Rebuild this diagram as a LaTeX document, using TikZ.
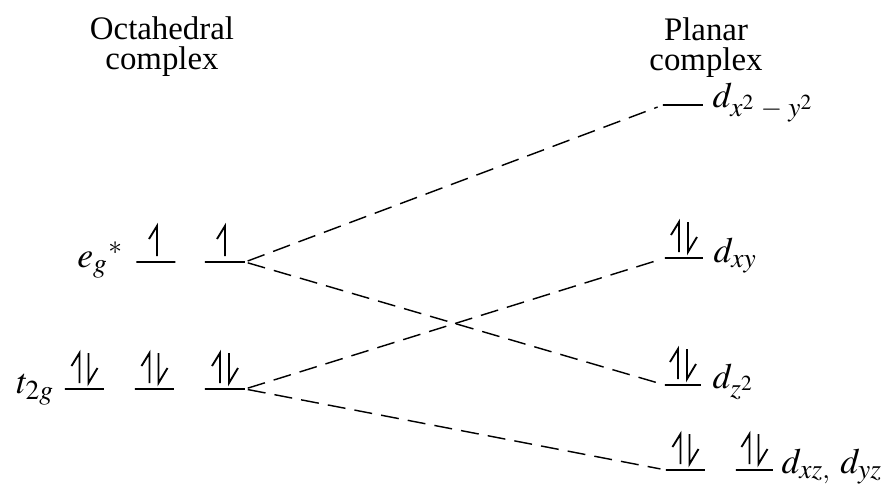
\documentclass[tikz,border=0pt]{standalone}
\usepackage{mathptmx}
\usepackage{fontspec}
\setmainfont{Liberation Serif}
\DeclareMathSizes{12.5}{12.5}{9.6}{7.5}
\begin{document}
\begin{tikzpicture}[x=0.35pt,y=-0.35pt,
  level/.style={draw, line width=0.8pt, rectangle, minimum height=0pt, inner sep=0pt, outer sep=0pt, minimum width=#1*0.35pt},
  level/.default=39,
  conn/.style={dash pattern=on 6.3pt off 3.2pt, line width=0.5pt, shorten >=2pt, shorten <=1pt},
  lbl/.style={inner sep=0pt, font=\fontsize{12.5}{14}\selectfont},
  hdr/.style={align=center, font=\fontsize{11.5}{10.5}\selectfont, inner sep=0pt, anchor=north},
  uparr/.pic={\draw[line width=0.65pt, line join=miter] (0,-6) -- (0,-36) -- (-8,-23);},
  dnarr/.pic={\draw[line width=0.65pt, line join=miter] (0,-36) -- (0,-6) -- (9,-21);}
]
\useasboundingbox (0,0) rectangle (887,487);

% headers
\node[hdr] (octa) at (162,16) {Octahedral\\complex};
\node[hdr] (plan) at (706,17) {Planar\\complex};

% octahedral levels
\node[level] (eg1) at (156,262) {};
\node[level=40] (eg2) at (225,262) {};
\node[level] (t1) at (84.5,389) {};
\node[level] (t2) at (154.5,389) {};
\node[level=40] (t3) at (225,389) {};

% planar levels
\node[level=40] (dx2) at (683,105) {};
\node[level=38] (dxy) at (684,258) {};
\node[level=36] (dz2) at (683,385) {};
\node[level] (dxz) at (685.5,470) {};
\node[level=37] (dyz) at (754.5,470) {};

% labels
\node[lbl, anchor=base east] (eglbl) at (124,267) {${e_g}^{*}$};
\node[lbl, anchor=base east] (tlbl) at (55,393) {$t_{2g}$};
\node[lbl, anchor=base west] (dx2lbl) at (712,107) {$d_{x^2\;-\;y^2}$};
\node[lbl, anchor=base west] (dxylbl) at (713,262) {$d_{xy}$};
\node[lbl, anchor=base west] (dz2lbl) at (712,388) {$d_{z^2}$};
\node[lbl, anchor=base west] (dxzlbl) at (781,473) {$d_{xz,}\ d_{yz}$};

% electrons
\pic at (157,262) {uparr};
\pic at (225,262) {uparr};
\foreach \c in {84.5,154.5,225}{
  \pic at (\c-5,389) {uparr};
  \pic at (\c+4,389) {dnarr};
}
\pic at (679,258) {uparr};
\pic at (688,258) {dnarr};
\pic at (678,385) {uparr};
\pic at (687,385) {dnarr};
\pic at (680.5,470) {uparr};
\pic at (689.5,470) {dnarr};
\pic at (749.5,470) {uparr};
\pic at (758.5,470) {dnarr};

% connectors
\draw[conn] (eg2.east) -- (dx2.west);
\draw[conn] (eg2.east) -- (dz2.west);
\draw[conn] (t3.east) -- (dxy.west);
\draw[conn] (t3.east) -- (dxz.west);
\end{tikzpicture}
\end{document}
